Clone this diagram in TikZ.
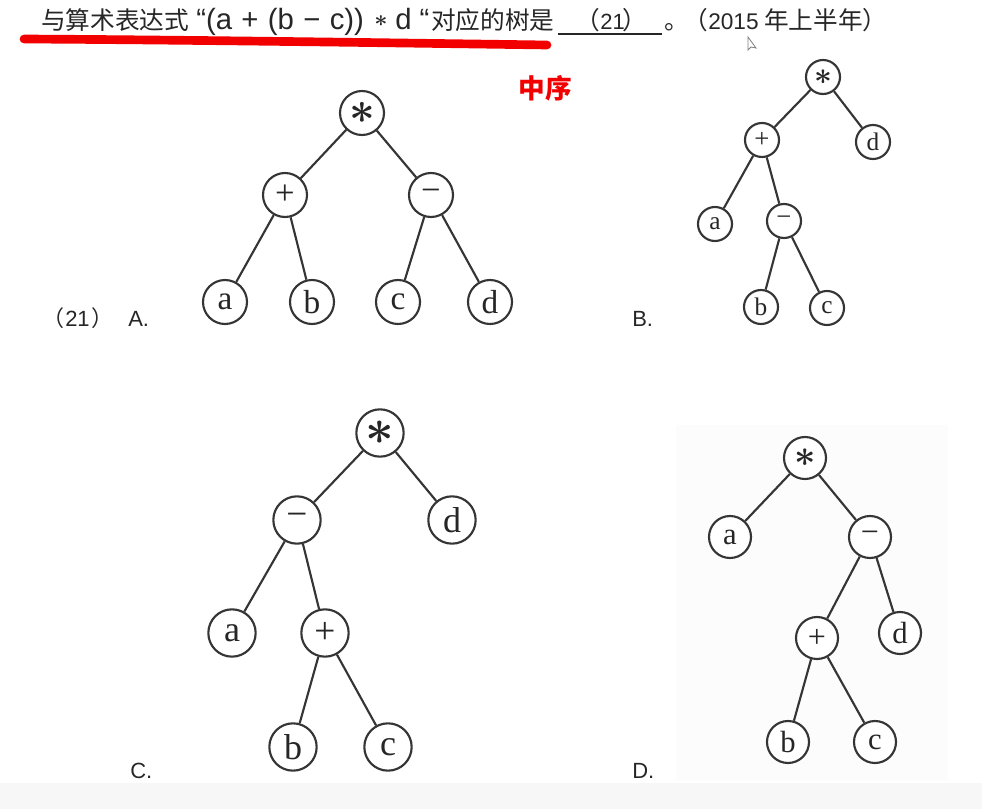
\documentclass[tikz,border=0pt]{standalone}
\usepackage{fontspec}
\setmainfont{Liberation Serif}
\newfontfamily\cjk{Noto Sans CJK SC}
\newfontfamily\lsans{Liberation Sans}
\definecolor{tcol}{HTML}{353535}
\definecolor{tx}{HTML}{262626}
\definecolor{redm}{HTML}{F20000}
\newcommand\bigast[1]{\scalebox{#1}{$\ast$}}
\newcommand\gsp{\hspace{7pt}}
\tikzset{
  nd/.style={circle, draw=tcol, line width=1.6pt, inner sep=0pt, fill=white, text=tx},
  lf/.style={nd, font=\fontsize{#1}{#1}\selectfont},
  op/.style={nd, font=\fontsize{#1}{#1}\selectfont},
  as/.style={nd, font=\fontsize{#1}{#1}\selectfont\boldmath},
  ed/.style={draw=tcol, line width=1.6pt},
  hcjk/.style={inner sep=0pt, text=tx, font=\cjk\fontsize{18.5}{20}\selectfont},
  hlat/.style={inner sep=0pt, text=tx, font=\lsans\fontsize{22}{22}\selectfont},
  hdig/.style={inner sep=0pt, text=tx, font=\lsans\fontsize{16.5}{18}\selectfont},
  lab/.style={inner sep=0pt, text=tx, font=\lsans\fontsize{16.5}{18}\selectfont},
  labc/.style={inner sep=0pt, text=tx, font=\cjk\fontsize{16.5}{18}\selectfont},
}
\begin{document}
\begin{tikzpicture}[x=0.75pt,y=-0.75pt]
\useasboundingbox (0,0) rectangle (982,809);
\fill[gray!6] (0,783) rectangle (982,809);
\fill[gray!2.5] (676,425) rectangle (948,781);

% header
\draw[redm, line width=6.5pt, line cap=round] (24,39) .. controls (200,40) and (400,43) .. (547,45);
\node[hcjk, anchor=base west] (h1) at (41,30) {与算术表达式};
\node[hlat, anchor=base west] (h2) at (196,30) {“(a\gsp+\gsp(b\gsp−\gsp c))};
\node[hlat, font=\fontsize{18}{18}\selectfont\boldmath] (h3) at (381,21) {$\ast$};
\node[hlat, anchor=base west] (h4) at (395,30) {d “};
\node[hcjk, anchor=base west] (h5) at (431,30) {对应的树是};
\coordinate (u1) at (558,34);
\coordinate (u2) at (662,34);
\draw[tx, line width=1.5pt] (u1) -- (u2);
\node[hcjk, anchor=base east] (h6) at (600,30) {（};
\node[hdig, anchor=base west] (h7) at (600,30) {21};
\node[hcjk, anchor=base west] (h8) at (622,30) {）};
\node[hcjk, anchor=base west] (h9) at (664,30) {。};
\node[hcjk, anchor=base east] (h10) at (708,30) {（};
\node[hdig, font=\lsans\fontsize{17}{18}\selectfont, anchor=base west] (h11) at (708,30) {2015};
\node[hcjk, anchor=base west] (h12) at (764,30) {年上半年）};
\draw[gray, line width=0.6pt, fill=white] (748,37) -- (748,50) -- (751,47) -- (756,48) -- cycle;

\node[text=redm, inner sep=0pt, font=\cjk\bfseries\fontsize{20}{20}\selectfont] (zx) at (545,88) {中序};

% labels
\node[labc, anchor=base east] (l1) at (65,327) {（};
\node[lab, anchor=base west] (l2) at (65,327) {21};
\node[labc, anchor=base west] (l3) at (91,327) {）};
\node[lab, anchor=base west] (lA) at (128,327) {A.};
\node[lab, anchor=base west] (lB) at (632,327) {B.};
\node[lab, anchor=base west] (lC) at (130,778) {C.};
\node[lab, anchor=base west] (lD) at (632,778) {D.};

% tree A
\begin{scope}[every node/.append style={minimum size=33pt}]
\node[as=24] (As) at (362,113) {\bigast{1.35}};
\node[op=26] (Ap) at (285,195) {+};
\node[op=26] (Am) at (431,195) {−};
\node[lf=25] (Aa) at (225,302) {a};
\node[lf=25] (Ab) at (312,302) {b};
\node[lf=25] (Ac) at (398,302) {c};
\node[lf=25] (Ad) at (490,302) {d};
\end{scope}
\draw[ed] (As) -- (Ap); \draw[ed] (As) -- (Am);
\draw[ed] (Ap) -- (Aa); \draw[ed] (Ap) -- (Ab);
\draw[ed] (Am) -- (Ac); \draw[ed] (Am) -- (Ad);

% tree B
\begin{scope}[every node/.append style={minimum size=25.5pt}]
\node[as=19] (Bs) at (823,77) {\bigast{1.35}};
\node[op=20] (Bp) at (762,140) {+};
\node[lf=19] (Bd) at (873,142) {d};
\node[lf=19] (Ba) at (715,224) {a};
\node[op=20] (Bm) at (784,221) {−};
\node[lf=19] (Bb) at (761,307) {b};
\node[lf=19] (Bc) at (827,308) {c};
\end{scope}
\draw[ed] (Bs) -- (Bp); \draw[ed] (Bs) -- (Bd);
\draw[ed] (Bp) -- (Ba); \draw[ed] (Bp) -- (Bm);
\draw[ed] (Bm) -- (Bb); \draw[ed] (Bm) -- (Bc);

% tree C
\begin{scope}[every node/.append style={minimum size=35.5pt}]
\node[as=24] (Cs) at (380,433) {\bigast{1.5}};
\node[op=28] (Cm) at (297,520) {−};
\node[lf=27] (Cd) at (452,520) {d};
\node[lf=27] (Ca) at (232,633) {a};
\node[op=28] (Cp) at (325,633) {+};
\node[lf=27] (Cb) at (293,747) {b};
\node[lf=27] (Cc) at (388,747) {c};
\end{scope}
\draw[ed] (Cs) -- (Cm); \draw[ed] (Cs) -- (Cd);
\draw[ed] (Cm) -- (Ca); \draw[ed] (Cm) -- (Cp);
\draw[ed] (Cp) -- (Cb); \draw[ed] (Cp) -- (Cc);

% tree D
\begin{scope}[every node/.append style={minimum size=31.5pt}]
\node[as=22] (Ds) at (805,458) {\bigast{1.35}};
\node[lf=23] (Da) at (730,537) {a};
\node[op=24] (Dm) at (870,537) {−};
\node[op=24] (Dp) at (817,638) {+};
\node[lf=23] (Dd) at (900,633) {d};
\node[lf=23] (Db) at (788,742) {b};
\node[lf=23] (Dc) at (875,742) {c};
\end{scope}
\draw[ed] (Ds) -- (Da); \draw[ed] (Ds) -- (Dm);
\draw[ed] (Dm) -- (Dp); \draw[ed] (Dm) -- (Dd);
\draw[ed] (Dp) -- (Db); \draw[ed] (Dp) -- (Dc);
\end{tikzpicture}
\end{document}
